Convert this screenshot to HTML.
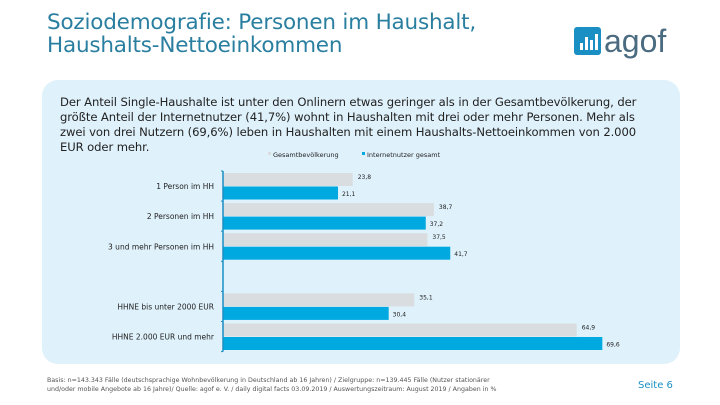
<!DOCTYPE html>
<html><head><meta charset="utf-8">
<style>
body{margin:0;width:720px;height:405px;background:#fff;font-family:"DejaVu Sans","Liberation Sans",sans-serif;position:relative;overflow:hidden}
.abs{position:absolute}
#title{left:47px;top:11px;font-size:21.5px;line-height:23px;color:#2a7fa0;letter-spacing:-0.2px}
#panel{left:42px;top:80px;width:638px;height:284px;background:#dff1fb;border-radius:16px}
#intro{left:60px;top:95px;width:598px;font-size:11.6px;line-height:15px;color:#222;letter-spacing:-0.1px}
#foot{left:47px;top:376px;font-size:6.3px;line-height:9px;color:#555}
#seite{left:638px;top:380px;font-size:10px;color:#1a8fc4}
</style></head><body>
<div id="title" class="abs">Soziodemografie: Personen im Haushalt,<br>Haushalts-Nettoeinkommen</div>
<div class="abs" style="left:574px;top:24px">
<svg width="104" height="36"><rect x="0" y="3" width="27" height="28" rx="3" fill="#1a8fc4"/><rect x="6" y="19" width="3" height="7" fill="#fff"/><rect x="11" y="13" width="3" height="13" fill="#fff"/><rect x="16" y="16" width="3" height="10" fill="#fff"/><rect x="21" y="10" width="3" height="16" fill="#fff"/><text x="30" y="28" font-size="32" fill="#4a6b80" font-family="Liberation Sans">agof</text></svg></div>
<div id="panel" class="abs"></div>
<div id="intro" class="abs">Der Anteil Single-Haushalte ist unter den Onlinern etwas geringer als in der Gesamtbevölkerung, der größte Anteil der Internetnutzer (41,7%) wohnt in Haushalten mit drei oder mehr Personen. Mehr als zwei von drei Nutzern (69,6%) leben in Haushalten mit einem Haushalts-Nettoeinkommen von 2.000 EUR oder mehr.</div>
<svg id="chart" class="abs" style="left:0;top:0" width="720" height="405"></svg>
<div id="foot" class="abs">Basis: n=143.343 Fälle (deutschsprachige Wohnbevölkerung in Deutschland ab 16 Jahren) / Zielgruppe: n=139.445 Fälle (Nutzer stationärer<br>und/oder mobile Angebote ab 16 Jahre)/ Quelle: agof e. V. / daily digital facts 03.09.2019 / Auswertungszeitraum: August 2019 / Angaben in %</div>
<div id="seite" class="abs">Seite 6</div>
<script>
const categories=["1 Person im HH","2 Personen im HH","3 und mehr Personen im HH","","HHNE bis unter 2000 EUR","HHNE 2.000 EUR und mehr"];
const gesamt=[23.8,38.7,37.5,null,35.1,64.9];
const internet=[21.1,37.2,41.7,null,30.4,69.6];
const seriesNames=["Gesamtbevölkerung","Internetnutzer gesamt"];
const NS="http://www.w3.org/2000/svg";
const svg=document.getElementById('chart');
const x0=223,scale=5.45,top0=171,slot=30.1,bh=13;
const xs=v=>x0+v*scale;
function el(t,a){const e=document.createElementNS(NS,t);for(const k in a)e.setAttribute(k,a[k]);svg.appendChild(e);return e;}
function fmt(v){return v.toFixed(1).replace('.',',');}
categories.forEach((c,i)=>{
 const y=top0+i*slot;
 if(c){const t=el('text',{x:214,y:y+slot/2+3,'text-anchor':'end','font-size':7.5,fill:'#222','font-family':'DejaVu Sans'});t.textContent=c;
 
 }
 if(gesamt[i]!=null){
  const r=el('rect',{x:x0,y:y+2,width:xs(gesamt[i])-x0,height:bh,fill:'#d9dde0'});
  
  
  const t=el('text',{x:xs(gesamt[i])+5,y:y+8,'font-size':6,fill:'#222','font-family':'DejaVu Sans'});t.textContent=fmt(gesamt[i]);
  
  
 }
 if(internet[i]!=null){
  const r=el('rect',{x:x0,y:y+15.5,width:xs(internet[i])-x0,height:bh,fill:'#00a9e0'});
  
  
  const t=el('text',{x:xs(internet[i])+4,y:y+25,'font-size':6,fill:'#222','font-family':'DejaVu Sans'});t.textContent=fmt(internet[i]);
  
  
 }
});
const ax=el('line',{x1:x0,y1:top0,x2:x0,y2:top0+6*slot,stroke:'#1a8fc4','stroke-width':1.5});


for(let i=0;i<=6;i++){const tk=el('line',{x1:x0-2,y1:top0+i*slot,x2:x0,y2:top0+i*slot,stroke:'#1a8fc4'});

}
const cols=['#d9dde0','#00a9e0'],lx=[268,362];
seriesNames.forEach((n,i)=>{
 const r=el('rect',{x:lx[i],y:152,width:3,height:3,fill:cols[i]});
 
 
 const t=el('text',{x:lx[i]+5,y:157,'font-size':6.5,fill:'#222','font-family':'DejaVu Sans'});t.textContent=n;
 
 
});
</script>
</body></html>
